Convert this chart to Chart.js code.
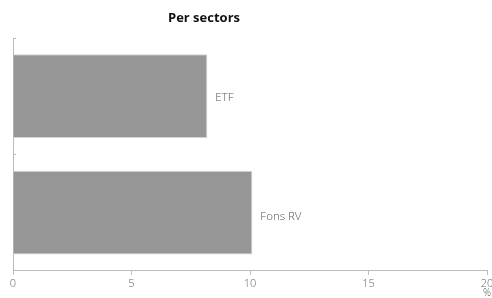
<!DOCTYPE html>
<html>
<head>
<meta charset="utf-8">
<script src="https://cdn.jsdelivr.net/npm/chart.js@4"></script>
<style>
  body { margin: 0; background: #fff; }
  #wrap { width: 492px; height: 298px; }
</style>
</head>
<body>
<div id="wrap"><canvas id="sectorChart" width="492" height="298"></canvas></div>
<script>
const categories = ['ETF', 'Fons RV'];
const sectorValues = [8.2, 10.1];
const xTicks = [0, 5, 10, 15, 20];

// bar-end labels, the unit and the small title, drawn on the canvas
const barLabels = {
    id: 'barLabels',
    afterDatasetsDraw(chart) {
        const ctx = chart.ctx;
        const area = chart.chartArea;
        const meta = chart.getDatasetMeta(0);
        ctx.save();
        ctx.font = '300 11.5px "Open Sans", Lato, sans-serif';
        ctx.fillStyle = '#555';
        ctx.textBaseline = 'middle';
        meta.data.forEach((bar, i) => {
            ctx.fillText(categories[i], bar.x + 8, bar.y + 2 + i * 2);
        });

        // short tick marks on the category axis, pointing into the plot
        const yScale = chart.scales.y;
        const band = yScale.getPixelForValue(1) - yScale.getPixelForValue(0);
        ctx.strokeStyle = '#bbb';
        ctx.lineWidth = 1;
        for (let i = 0; i < categories.length; i++) {
            const yy = Math.round(yScale.getPixelForValue(i) - band / 2) + 0.5;
            ctx.beginPath();
            ctx.moveTo(area.left, yy);
            ctx.lineTo(area.left + 3, yy);
            ctx.stroke();
        }

        ctx.font = '300 10px "Open Sans", Lato, sans-serif';
        ctx.fillStyle = '#666';
        ctx.textAlign = 'center';
        ctx.fillText('%', area.right, 293);

        ctx.font = 'bold 13px "Open Sans", "Liberation Sans", sans-serif';
        ctx.fillStyle = '#111';
        ctx.fillText('Per sectors', 204, 18);
        ctx.restore();
    }
};

new Chart(document.getElementById('sectorChart'), {
    type: 'bar',
    data: {
        labels: categories,
        datasets: [{
            data: sectorValues,
            backgroundColor: '#969696',
            borderColor: '#d4d4d4',
            borderWidth: 1,
            barPercentage: 0.72,
            categoryPercentage: 1.0
        }]
    },
    options: {
        indexAxis: 'y',
        responsive: false,
        animation: false,
        layout: { padding: { left: 13, right: 0, top: 38, bottom: 6 } },
        plugins: {
            legend: { display: false },
            tooltip: { enabled: false }
        },
        scales: {
            x: {
                min: 0,
                max: 20,
                afterBuildTicks: (scale) => { scale.ticks = xTicks.map(v => ({ value: v })); },
                afterFit: (scale) => { scale.paddingRight = 5; },
                border: { color: '#bbb' },
                grid: { drawOnChartArea: false, color: '#bbb', tickLength: 4 },
                ticks: {
                    color: '#666',
                    padding: 2,
                    maxRotation: 0,
                    font: { family: '"Open Sans", Lato, sans-serif', size: 11, weight: '300' }
                }
            },
            y: {
                border: { color: '#bbb' },
                grid: { display: false, drawTicks: false },
                ticks: { display: false }
            }
        }
    },
    plugins: [barLabels]
});
</script>
</body>
</html>
